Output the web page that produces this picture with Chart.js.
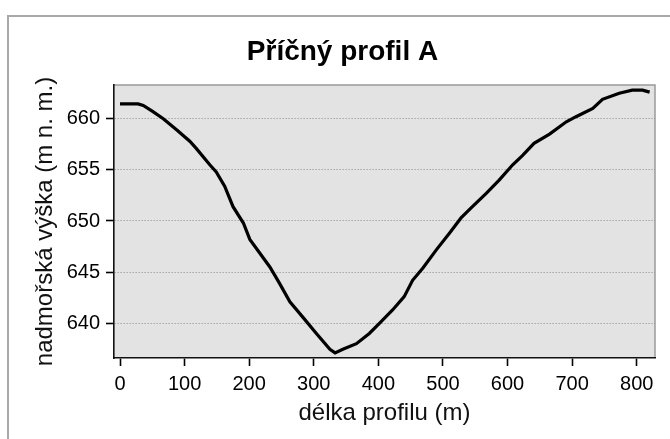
<!DOCTYPE html>
<html>
<head>
<meta charset="utf-8">
<script src="https://cdn.jsdelivr.net/npm/chart.js@4/dist/chart.umd.min.js"></script>
<style>
  html, body { margin: 0; padding: 0; background: #fff; }
  #wrap { width: 670px; height: 439px; }
</style>
</head>
<body>
<div id="wrap"><canvas id="chart-profil" width="670" height="439"></canvas></div>
<script>
// délka profilu (m)
const distances = [0, 28, 36, 51, 67, 88, 108, 118, 139, 149, 162, 175, 191, 201, 216, 232, 247, 263, 283, 304,
    325, 333, 345, 366, 386, 402, 422, 440, 453, 469, 490, 510, 528, 544, 567, 587, 608, 623, 641, 665,
    691, 706, 732, 747, 773, 793, 809, 820];
// nadmořská výška (m n. m.)
const elevations = [661.45, 661.45, 661.3, 660.7, 660.0, 658.9, 657.8, 657.1, 655.5, 654.8, 653.4, 651.4, 649.8, 648.2, 646.9, 645.5, 643.9, 642.1, 640.6, 639.0,
    637.45, 637.1, 637.45, 638.0, 639.0, 640.0, 641.3, 642.6, 644.2, 645.4, 647.2, 648.8, 650.3, 651.3, 652.7, 654.0, 655.5, 656.4, 657.6, 658.5,
    659.7, 660.2, 661.0, 661.9, 662.5, 662.8, 662.8, 662.6];
const xTicks = [0, 100, 200, 300, 400, 500, 600, 700, 800];
const yTicks = [640, 645, 650, 655, 660];

const chartProfil = document.getElementById('chart-profil');
const font = 'Arial, "Liberation Sans", sans-serif';

const pozadi = {
    id: 'pozadi',
    beforeDraw(chart) {
        const {ctx, chartArea: a} = chart;
        ctx.save();
        ctx.fillStyle = '#fff';
        ctx.fillRect(0, 0, chart.width, chart.height);
        // ramecek okolo celeho grafu
        ctx.strokeStyle = '#a8a8a8';
        ctx.lineWidth = 2;
        ctx.strokeRect(8, 16, 800, 600);
        // plocha grafu
        ctx.fillStyle = '#e3e3e3';
        ctx.fillRect(a.left, a.top, a.right - a.left, a.bottom - a.top);
        ctx.strokeStyle = '#9a9a9a';
        ctx.lineWidth = 1.5;
        ctx.beginPath();
        ctx.moveTo(a.left, a.top);
        ctx.lineTo(a.right, a.top);
        ctx.lineTo(a.right, a.bottom);
        ctx.stroke();
        ctx.restore();
    }
};

const config = {
    type: 'line',
    data: {
        datasets: [{
            data: distances.map((d, i) => ({x: d, y: elevations[i]})),
            borderColor: '#000',
            borderWidth: 3.2,
            tension: 0,
            pointRadius: 0,
            fill: false
        }]
    },
    options: {
        responsive: false,
        animation: false,
        layout: { padding: { left: 30, right: 15, top: 0, bottom: 0 } },
        plugins: {
            legend: { display: false },
            tooltip: { enabled: false },
            title: {
                display: true,
                text: 'Příčný profil A',
                color: '#000',
                font: { family: font, size: 28, weight: 'bold', lineHeight: 1.2 },
                padding: { top: 35, bottom: 16.4 }
            }
        },
        scales: {
            x: {
                type: 'linear',
                min: -9.3,
                max: 828.3,
                afterFit: (scale) => { scale.height = 81; },
                afterBuildTicks: (scale) => { scale.ticks = xTicks.map(v => ({value: v})); },
                ticks: { color: '#000', font: { family: font, size: 20 }, padding: 6, maxRotation: 0, autoSkip: false },
                grid: { drawOnChartArea: false, drawTicks: true, tickLength: 8, tickColor: '#000', tickWidth: 1.6 },
                border: { display: true, color: '#111', width: 1.6 },
                title: {
                    display: true,
                    text: 'délka profilu (m)',
                    color: '#111',
                    font: { family: font, size: 24, lineHeight: 1.2 },
                    padding: { top: 0, bottom: 11 }
                }
            },
            y: {
                min: 636.6,
                max: 663.3,
                afterFit: (scale) => { scale.width = 84; },
                afterBuildTicks: (scale) => { scale.ticks = yTicks.map(v => ({value: v})); },
                ticks: { color: '#000', font: { family: font, size: 20 }, padding: 6 },
                grid: { color: '#8a8a8a', lineWidth: 1, drawTicks: true, tickLength: 8, tickColor: '#000', tickWidth: 1.6, tickBorderDash: [] },
                border: { display: true, color: '#111', width: 1.6, dash: [1, 2] },
                title: {
                    display: true,
                    text: 'nadmořská výška (m n. m.)',
                    color: '#111',
                    font: { family: font, size: 24, lineHeight: 1.2 },
                    padding: { top: 1, bottom: 0 }
                }
            }
        }
    },
    plugins: [pozadi]
};

new Chart(chartProfil, config);
</script>
</body>
</html>
